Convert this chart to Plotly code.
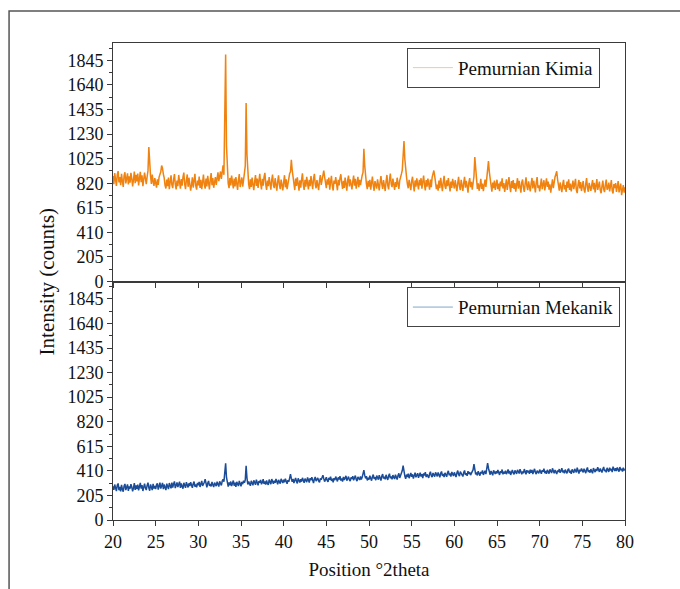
import plotly.graph_objects as go
from plotly.subplots import make_subplots

# Sampling grid of the scans (degrees 2theta)
x_start = 20.0
x_step = 0.1

# Pemurnian Kimia intensities, one row per degree (20.0 .. 80.0)
kimia = [
    880, 812, 905, 843, 798, 892, 921, 826, 871, 804,
    898, 835, 790, 884, 912, 818, 866, 903, 809, 877,
    825, 907, 858, 793, 851, 918, 820, 889, 836, 901,
    801, 872, 915, 828, 886, 795, 847, 909, 861, 812,
    874, 925, 1121, 950, 880, 815, 893, 836, 797, 862,
    821, 783, 852, 806, 871, 892, 915, 968, 945, 896,
    864, 802, 776, 851, 795, 868, 771, 829, 886, 807,
    779, 851, 897, 812, 768, 843, 796, 889, 827, 774,
    854, 799, 872, 908, 815, 770, 847, 893, 790, 866,
    813, 758, 806, 869, 784, 851, 899, 797, 766, 842,
    802, 876, 781, 849, 771, 828, 893, 809, 775, 858,
    794, 881, 825, 768, 849, 905, 803, 862, 782, 851,
    871, 806, 864, 910, 837, 880, 918, 855, 912, 970,
    890, 1280, 1895, 1130, 872, 818, 779, 864, 801, 883,
    832, 776, 858, 794, 871, 820, 765, 846, 897, 788,
    816, 868, 792, 877, 905, 965, 1489, 1060, 884, 811,
    770, 852, 789, 867, 808, 762, 836, 888, 797, 859,
    781, 845, 899, 819, 769, 857, 800, 874, 906, 811,
    764, 843, 796, 871, 822, 767, 849, 892, 803, 779,
    862, 798, 757, 834, 885, 806, 771, 851, 815, 760,
    829, 887, 786, 853, 771, 824, 880, 901, 915, 1016,
    930, 871, 812, 763, 858, 797, 869, 813, 758, 845,
    782, 851, 902, 807, 765, 848, 791, 873, 822, 768,
    849, 795, 879, 824, 770, 857, 898, 812, 778, 846,
    801, 762, 844, 887, 806, 851, 890, 926, 872, 818,
    779, 853, 808, 868, 766, 831, 882, 797, 759, 843,
    815, 872, 786, 761, 848, 802, 862, 895, 826, 772,
    841, 781, 867, 806, 758, 846, 884, 793, 852, 812,
    768, 835, 883, 799, 856, 775, 821, 874, 787, 848,
    805, 861, 885, 910, 1107, 965, 870, 812, 771, 839,
    792, 849, 766, 821, 876, 801, 757, 838, 809, 775,
    853, 796, 760, 827, 880, 812, 772, 846, 793, 755,
    834, 889, 801, 769, 849, 901, 815, 787, 858, 806,
    764, 829, 790, 866, 821, 773, 842, 884, 898, 930,
    1065, 1171, 1020, 910, 871, 812, 778, 849, 796, 763,
    838, 874, 805, 752, 843, 791, 861, 818, 768, 849,
    801, 862, 774, 830, 884, 808, 760, 847, 792, 858,
    823, 766, 851, 788, 869, 893, 926, 880, 812, 771,
    809, 758, 843, 779, 865, 815, 753, 828, 881, 796,
    772, 844, 796, 862, 809, 751, 834, 780, 856, 803,
    776, 845, 790, 753, 821, 874, 797, 762, 848, 808,
    755, 826, 873, 782, 840, 799, 741, 825, 862, 787,
    831, 766, 806, 878, 1038, 912, 846, 772, 819, 757,
    798, 857, 773, 818, 754, 806, 851, 789, 866, 910,
    1004, 915, 852, 785, 749, 826, 779, 843, 764, 811,
    849, 771, 818, 754, 834, 793, 861, 776, 822, 748,
    808, 853, 765, 827, 872, 796, 745, 838, 781, 846,
    773, 821, 750, 809, 862, 775, 839, 792, 741, 827,
    851, 784, 748, 817, 869, 796, 763, 835, 788, 752,
    816, 864, 777, 841, 795, 744, 826, 871, 780, 803,
    752, 823, 858, 771, 806, 845, 760, 798, 861, 789,
    834, 767, 811, 742, 821, 853, 779, 838, 872, 895,
    920, 851, 793, 758, 826, 776, 745, 812, 848, 769,
    805, 747, 833, 782, 852, 764, 818, 751, 796, 842,
    771, 816, 857, 763, 738, 809, 847, 776, 829, 755,
    797, 839, 766, 742, 815, 862, 781, 749, 823, 792,
    756, 804, 846, 769, 823, 744, 811, 855, 765, 798,
    833, 762, 737, 794, 842, 771, 746, 808, 851, 767,
    783, 826, 752, 797, 847, 758, 735, 812, 779, 821,
    748, 792, 838, 744, 771, 817, 720, 763, 805, 741,
    786,
]

# Pemurnian Mekanik intensities, one row per degree (20.0 .. 80.0)
mekanik = [
    282, 251, 296, 259, 241, 290, 305, 248, 276, 238,
    293, 257, 236, 284, 301, 249, 272, 297, 243, 280,
    261, 299, 275, 240, 268, 307, 252, 288, 259, 296,
    247, 283, 310, 262, 291, 242, 271, 303, 266, 250,
    289, 312, 268, 244, 297, 274, 249, 301, 263, 285,
    258, 294, 306, 253, 280, 311, 262, 287, 309, 257,
    296, 271, 250, 303, 276, 258, 308, 281, 264, 312,
    270, 301, 322, 266, 289, 314, 275, 298, 320, 268,
    305, 279, 262, 310, 287, 268, 316, 293, 272, 306,
    284, 315, 290, 269, 302, 321, 278, 297, 273, 309,
    291, 318, 276, 303, 326, 285, 299, 315, 341, 296,
    273, 308, 326, 284, 301, 280, 317, 293, 275, 312,
    300, 283, 319, 297, 279, 322, 304, 288, 325, 340,
    320, 380, 473, 355, 296, 278, 314, 289, 321, 283,
    307, 329, 286, 312, 277, 318, 300, 283, 326, 295,
    281, 317, 299, 328, 310, 335, 453, 350, 296, 322,
    309, 285, 327, 303, 289, 331, 312, 294, 337, 306,
    290, 325, 311, 334, 298, 316, 340, 301, 322, 296,
    330, 305, 292, 337, 315, 299, 341, 318, 303, 327,
    311, 343, 320, 298, 335, 317, 304, 344, 322, 309,
    336, 314, 345, 323, 302, 333, 319, 350, 382, 345,
    318, 342, 308, 331, 350, 322, 306, 347, 326, 313,
    341, 320, 352, 329, 310, 346, 333, 316, 355, 327,
    312, 349, 331, 356, 322, 308, 343, 359, 325, 338,
    351, 326, 315, 348, 336, 355, 374, 345, 320, 339,
    357, 330, 318, 352, 337, 361, 326, 345, 315, 350,
    333, 362, 341, 322, 356, 338, 365, 329, 347, 321,
    359, 335, 351, 368, 328, 346, 362, 337, 324, 355,
    342, 366, 331, 353, 370, 339, 325, 360, 348, 334,
    364, 338, 356, 385, 416, 372, 347, 366, 330, 352,
    337, 369, 349, 328, 361, 379, 343, 358, 332, 371,
    355, 336, 374, 350, 329, 366, 383, 346, 362, 340,
    377, 352, 335, 369, 386, 348, 364, 339, 375, 356,
    342, 378, 361, 337, 372, 389, 351, 367, 385, 412,
    453, 398, 366, 343, 379, 358, 387, 349, 371, 392,
    360, 381, 345, 374, 395, 356, 368, 390, 352, 377,
    394, 363, 382, 350, 388, 371, 399, 358, 380, 366,
    352, 386, 403, 369, 357, 392, 375, 361, 398, 378,
    364, 397, 381, 356, 390, 405, 368, 384, 359, 393,
    379, 360, 395, 410, 373, 389, 362, 401, 385, 367,
    398, 374, 358, 392, 412, 380, 366, 403, 387, 371,
    363, 396, 413, 377, 391, 368, 408, 384, 399, 375,
    389, 405, 420, 467, 410, 381, 396, 372, 407, 386,
    370, 402, 388, 413, 376, 395, 411, 383, 425, 475,
    432, 395, 378, 409, 390, 373, 414, 398, 384, 406,
    389, 417, 400, 376, 408, 392, 421, 381, 403, 387,
    411, 383, 399, 422, 387, 409, 376, 404, 418, 393,
    380, 414, 396, 385, 419, 401, 388, 424, 398, 382,
    406, 390, 425, 403, 381, 415, 397, 411, 386, 420,
    394, 418, 384, 407, 427, 396, 383, 412, 402, 389,
    421, 398, 386, 416, 404, 428, 391, 409, 385, 419,
    400, 387, 422, 410, 392, 431, 405, 389, 417, 398,
    384, 413, 401, 425, 394, 408, 433, 397, 414, 390,
    420, 403, 389, 418, 429, 395, 411, 386, 423, 407,
    393, 426, 410, 398, 436, 402, 388, 419, 405, 430,
    412, 397, 428, 406, 391, 421, 438, 400, 416, 395,
    425, 404, 390, 433, 411, 399, 427, 408, 440, 414,
    401, 430, 415, 396, 424, 443, 407, 419, 398, 435,
    418, 402, 437, 413, 426, 399, 445, 420, 408, 431,
    409, 438, 421, 403, 442, 415, 428, 405, 436, 417,
    422,
]

series_names = ["Pemurnian Kimia", "Pemurnian Mekanik"]
y_ticks = [0, 205, 410, 615, 820, 1025, 1230, 1435, 1640, 1845]
x_ticks = [20, 25, 30, 35, 40, 45, 50, 55, 60, 65, 70, 75, 80]

ORANGE = "#F0820F"
BLUE = "#1B4C98"
FONT = "Liberation Serif"
AXC = "#3a3a3a"
FS = 18

fig = make_subplots(rows=2, cols=1, shared_xaxes=True, vertical_spacing=0)

fig.add_trace(go.Scatter(y=kimia, x0=x_start, dx=x_step, mode="lines",
                         line=dict(color=ORANGE, width=1.5), showlegend=False,
                         hoverinfo="skip"), row=1, col=1)
fig.add_trace(go.Scatter(x=[None], y=[None], mode="lines", name=series_names[0],
                         line=dict(color="#F3C99A", width=1), legend="legend"),
              row=1, col=1)
fig.add_trace(go.Scatter(y=mekanik, x0=x_start, dx=x_step, mode="lines",
                         line=dict(color=BLUE, width=1.5), showlegend=False,
                         hoverinfo="skip"), row=2, col=1)
fig.add_trace(go.Scatter(x=[None], y=[None], mode="lines", name=series_names[1],
                         line=dict(color="#7FA9C9", width=1), legend="legend2"),
              row=2, col=1)

yax = dict(range=[0, 1990], tickvals=y_ticks, ticks="outside", ticklen=5,
           tickcolor=AXC, showline=True, linecolor=AXC, linewidth=1, mirror=True,
           showgrid=False, zeroline=False,
           minor=dict(dtick=102.5, tick0=0, ticks="outside", ticklen=3, tickcolor=AXC),
           tickfont=dict(family=FONT, size=FS, color="#111"))
fig.update_yaxes(**yax)

fig.update_xaxes(range=[20, 80], tickvals=x_ticks, ticks="outside", ticklen=5,
                 tickcolor=AXC, showline=True, linecolor=AXC, linewidth=1,
                 mirror=True, showgrid=False, zeroline=False,
                 tickfont=dict(family=FONT, size=FS, color="#111"))
fig.update_xaxes(showticklabels=False, row=1, col=1)
fig.update_xaxes(title=dict(text="Position °2theta", font=dict(family=FONT, size=19, color="#111"),
                            standoff=12), row=2, col=1)

legend_common = dict(bgcolor="white", bordercolor="#444", borderwidth=1,
                     font=dict(family=FONT, size=19, color="#111"),
                     xanchor="right", yanchor="top", itemwidth=40,
                     tracegroupgap=0)
fig.update_layout(
    width=680, height=589,
    margin=dict(l=113, r=55, t=43, b=69),
    paper_bgcolor="white", plot_bgcolor="white",
    legend=dict(x=0.951, y=0.99, **legend_common),
    legend2=dict(x=0.99, y=0.488, **legend_common),
    annotations=[dict(text="Intensity (counts)", textangle=-90, xref="paper", yref="paper",
                      x=-0.129, y=0.5, showarrow=False, xanchor="center", yanchor="middle",
                      font=dict(family=FONT, size=21, color="#111"))],
    shapes=[dict(type="rect", xref="paper", yref="paper", x0=-0.203, x1=1.2,
                 y0=-0.3, y1=1.067, line=dict(color="#555", width=1.5),
                 fillcolor="rgba(0,0,0,0)", layer="below")],
)

fig.write_html("out.html")
